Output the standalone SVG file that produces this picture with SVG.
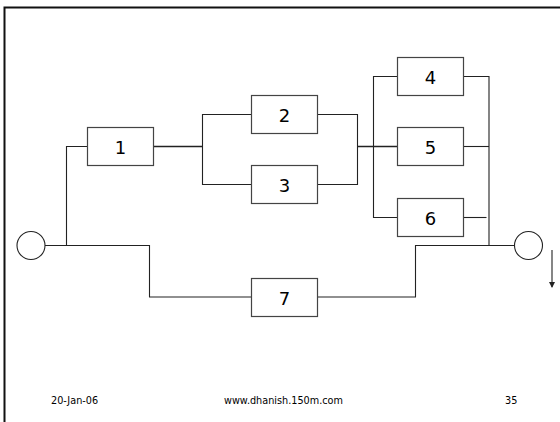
<svg xmlns="http://www.w3.org/2000/svg" width="560" height="422" viewBox="0 0 560 422">
  <style>
    .box { fill: #ffffff; stroke: #444444; stroke-width: 1.2; }
    .lbl { font-family: "DejaVu Sans", Verdana, sans-serif; font-size: 18px; fill: #000000; text-anchor: middle; }
    .wire { fill: none; stroke: #222222; stroke-width: 1.1; }
    .bus { fill: none; stroke: #222222; stroke-width: 1.6; }
    .term { fill: #ffffff; stroke: #222222; stroke-width: 1.1; }
    .foot { font-family: "DejaVu Sans", Verdana, sans-serif; font-size: 9.7px; fill: #000000; }
  </style>
  <defs>
    <marker id="arrowhead" markerWidth="6" markerHeight="6" refX="5" refY="3" orient="auto" markerUnits="userSpaceOnUse">
      <path d="M0,0 L6,3 L0,6 z" fill="#222222"/>
    </marker>
  </defs>

  <rect width="560" height="422" fill="#ffffff"/>
  <!-- slide frame (left and top edges) -->
  <path d="M4.5 430 V7.5 H570" fill="none" stroke="#111111" stroke-width="2"/>

  <g id="connectors">
    <path class="wire" d="M45 245.5 H149.5 V297 H251.5"/>
    <path class="wire" d="M66.5 245.5 V146.5 H87.5"/>
    <path class="bus" d="M153.5 146.5 H202.5"/>
    <path class="wire" d="M251.5 114.5 H202.5 V184.5 H251.5"/>
    <path class="wire" d="M317.5 114.5 H357.5 V184.5 H317.5"/>
    <path class="bus" d="M357.5 146.5 H397.5"/>
    <path class="wire" d="M397.5 76.5 H373.5 V217.5 H397.5"/>
    <path class="wire" d="M463.5 76.5 H489 V245.5"/>
    <path class="wire" d="M463.5 146.5 H489"/>
    <path class="wire" d="M463.5 217.5 H486.5"/>
    <path class="wire" d="M514.5 245.5 H415.5 V297 H317.5"/>
    <path class="wire" d="M552 250 V287" stroke="#555555" marker-end="url(#arrowhead)"/>
  </g>

  <g id="source">
    <circle class="term" cx="31" cy="245.5" r="14"/>
  </g>
  <g id="sink">
    <circle class="term" cx="528.5" cy="245.5" r="14"/>
  </g>

  <g id="node1">
    <rect class="box" x="87.5" y="127.5" width="66" height="38"/>
    <text class="lbl" x="120.5" y="153.5">1</text>
  </g>
  <g id="node2">
    <rect class="box" x="251.5" y="95.5" width="66" height="38"/>
    <text class="lbl" x="284.5" y="121.5">2</text>
  </g>
  <g id="node3">
    <rect class="box" x="251.5" y="165.5" width="66" height="38"/>
    <text class="lbl" x="284.5" y="191.5">3</text>
  </g>
  <g id="node4">
    <rect class="box" x="397.5" y="57.5" width="66" height="38"/>
    <text class="lbl" x="430.5" y="83.5">4</text>
  </g>
  <g id="node5">
    <rect class="box" x="397.5" y="127.5" width="66" height="38"/>
    <text class="lbl" x="430.5" y="153.5">5</text>
  </g>
  <g id="node6">
    <rect class="box" x="397.5" y="198.5" width="66" height="38"/>
    <text class="lbl" x="430.5" y="224.5">6</text>
  </g>
  <g id="node7">
    <rect class="box" x="251.5" y="278.5" width="66" height="38"/>
    <text class="lbl" x="284.5" y="304.5">7</text>
  </g>

  <g id="footer">
    <text class="foot" x="51" y="404">20-Jan-06</text>
    <text class="foot" x="224" y="404">www.dhanish.150m.com</text>
    <text class="foot" x="505" y="404">35</text>
  </g>
</svg>
